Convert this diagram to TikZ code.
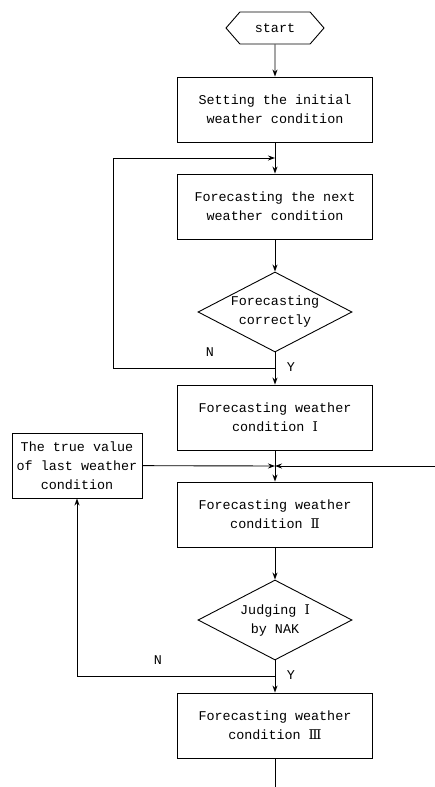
\documentclass[tikz,border=0pt]{standalone}
\usepackage{fontspec}
\setmainfont{Liberation Mono}
\newfontfamily\romfont{DejaVu Serif}
\usetikzlibrary{arrows.meta,shapes.geometric,shapes.symbols}

\newcommand{\numI}{{\romfont Ⅰ}}
\newcommand{\numII}{{\romfont Ⅱ}}
\newcommand{\numIII}{{\romfont Ⅲ}}

\begin{document}
\begin{tikzpicture}[x=1pt,y=-1pt,>={Stealth[length=7pt,width=5pt]},line width=0.9pt,
font=\fontsize{13.4}{19}\selectfont,
main node/.style={rectangle,draw,minimum width=195pt,minimum height=65pt,align=center},
side node/.style={rectangle,draw,minimum width=130pt,minimum height=65pt,align=center,inner sep=2pt},
test node/.style={diamond,draw,aspect=1.925,minimum width=154pt,minimum height=80pt,align=center,inner sep=-3pt},
end node/.style={signal,signal to=west and east,signal pointer angle=98,draw,minimum width=98pt,minimum height=32pt}]
\useasboundingbox (0,0) rectangle (435,787);
\node[end node] (start) at (275,28) {start};
\node[main node] (init) at (275,109.5) {Setting the initial\\weather condition};
\node[main node] (next) at (275,206.5) {Forecasting the next\\weather condition};
\node[test node] (check) at (275,312) {Forecasting\\correctly};
\node[main node] (fc1) at (275,417.5) {Forecasting weather\\condition \numI};
\node[side node] (true) at (77,465.5) {The true value\\of last weather\\condition};
\node[main node] (fc2) at (275,514.5) {Forecasting weather\\condition \numII};
\node[test node] (nak) at (275,620) {Judging \numI\\by NAK};
\node[main node] (fc3) at (275,725.5) {Forecasting weather\\condition \numIII};
\node (n1) at (210,352) {N};
\node (y1) at (291,367) {Y};
\node (n2) at (158,660) {N};
\node (y2) at (291,675) {Y};
\coordinate (j1) at (275,158);
\coordinate (j2) at (275,368);
\coordinate (j3) at (275,466);
\coordinate (j4) at (275,676);
\coordinate (back1) at (113,368);
\coordinate (feed) at (435,466);
\coordinate (out) at (275,787);
\draw[->] (start) -- (init);
\draw[->] (init) -- (next);
\draw[->] (next) -- (check);
\draw[->] (check) -- (fc1);
\draw[->] (j2) -- (back1) |- (j1);
\draw[->] (fc1) -- (fc2);
\draw[->] (true) -- (j3);
\draw[->] (feed) -- (j3);
\draw[->] (fc2) -- (nak);
\draw[->] (nak) -- (fc3);
\draw[->] (j4) -| (true);
\draw (fc3) -- (out);
\end{tikzpicture}
\end{document}
